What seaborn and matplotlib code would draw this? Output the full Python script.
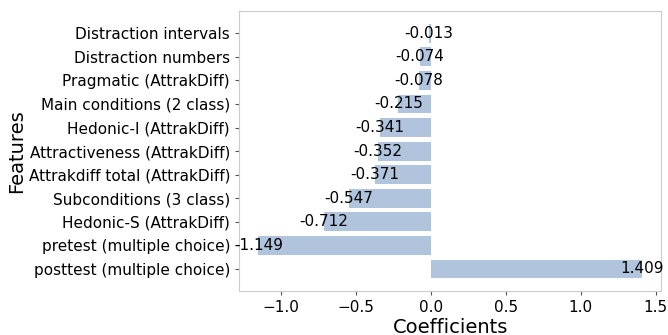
import matplotlib
matplotlib.use("Agg")
import matplotlib.pyplot as plt
import seaborn as sns
import pandas as pd

features = [
    "Distraction intervals",
    "Distraction numbers",
    "Pragmatic (AttrakDiff)",
    "Main conditions (2 class)",
    "Hedonic-I (AttrakDiff)",
    "Attractiveness (AttrakDiff)",
    "Attrakdiff total (AttrakDiff)",
    "Subconditions (3 class)",
    "Hedonic-S (AttrakDiff)",
    "pretest (multiple choice)",
    "posttest (multiple choice)",
]
coefficients = [-0.013, -0.074, -0.078, -0.215, -0.341, -0.352, -0.371,
                -0.547, -0.712, -1.149, 1.409]

df = pd.DataFrame({"Features": features, "Coefficients": coefficients})

fig = plt.figure(figsize=(6.68, 3.35), dpi=100)
ax = fig.add_axes([0.358, 0.131, 0.632, 0.836])

sns.barplot(data=df, x="Coefficients", y="Features", color="#b0c4de",
            saturation=1, width=0.8, ax=ax)

for i, v in enumerate(coefficients):
    ax.text(v, i, f"{v:.3f}", ha="center", va="center", fontsize=11, color="black")

ax.set_ylim(len(features) - 1 + 0.94, -0.94)
ax.set_xticks([-1.0, -0.5, 0.0, 0.5, 1.0, 1.5])
ax.tick_params(axis="both", labelsize=11, length=3, color="#555555")
ax.set_xlabel("Coefficients", fontsize=14, labelpad=2)
ax.set_ylabel("Features", fontsize=14, labelpad=2)
for s in ax.spines.values():
    s.set_color("#cccccc")

fig.savefig("out.png", dpi=100)
